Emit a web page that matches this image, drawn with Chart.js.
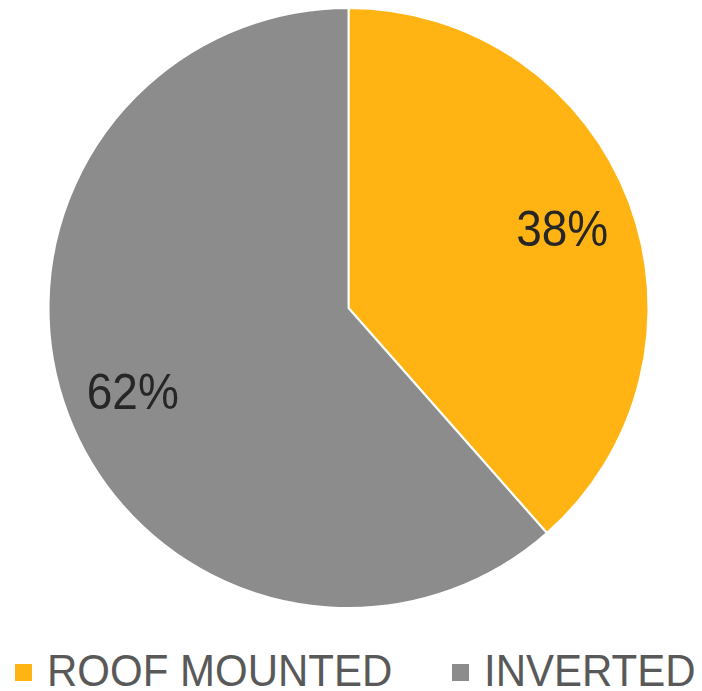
<!DOCTYPE html>
<html>
<head>
<meta charset="utf-8">
<script src="https://cdn.jsdelivr.net/npm/chart.js@4.4.0/dist/chart.umd.min.js"></script>
<style>
  html, body { margin: 0; padding: 0; background: #fff; }
  #wrap { position: relative; width: 702px; height: 691px; overflow: hidden; }
  #pie { position: absolute; left: 0; top: 0; }
  .key { position: absolute; width: 17px; height: 17px; top: 664px; }
  .name {
    position: absolute; top: 651px; font: 42px "Liberation Sans", Arial, sans-serif;
    line-height: 42px; color: #595959; white-space: nowrap;
    transform: scaleY(1.07); transform-origin: 0 36px;
  }
</style>
</head>
<body>
<div id="wrap">
  <canvas id="pie" width="702" height="615"></canvas>
</div>
<script>
// chart data
const categories = ['ROOF MOUNTED', 'INVERTED'];
const shares = [38.5, 61.5];
const sliceColors = ['#FFB413', '#8C8C8C'];
const percentLabels = ['38%', '62%'];

// legend spots (x of swatch, x of text)
const legendSpots = [[15, 47], [452, 484]];

// percent labels drawn inside each slice
const sliceLabels = {
  id: 'sliceLabels',
  afterDatasetsDraw(chart) {
    const ctx = chart.ctx;
    const arcs = chart.getDatasetMeta(0).data;
    ctx.save();
    ctx.font = '46px "Liberation Sans", Arial, sans-serif';
    ctx.fillStyle = '#262626';
    ctx.textAlign = 'center';
    ctx.textBaseline = 'middle';
    arcs.forEach((arc, i) => {
      const p = arc.getProps(['x', 'y', 'startAngle', 'endAngle', 'outerRadius'], true);
      const mid = (p.startAngle + p.endAngle) / 2;
      const r = p.outerRadius * 0.765;
      const lx = p.x + Math.cos(mid) * r - 1;
      const ly = p.y + Math.sin(mid) * r;
      ctx.save();
      ctx.translate(lx, ly);
      ctx.scale(1, 1.1);
      ctx.fillText(percentLabels[i], 0, 5);
      ctx.restore();
    });
    ctx.restore();
  }
};

new Chart(document.getElementById('pie'), {
  type: 'pie',
  data: {
    labels: categories,
    datasets: [{
      data: shares,
      backgroundColor: sliceColors,
      borderColor: '#ffffff',
      borderWidth: 2,
      hoverBorderWidth: 2
    }]
  },
  options: {
    responsive: false,
    animation: false,
    layout: { padding: { left: 47.5, right: 52.5, top: 7, bottom: 6 } },
    plugins: {
      legend: { display: false },
      tooltip: { enabled: false }
    }
  },
  plugins: [sliceLabels]
});

// legend below the pie
const wrap = document.getElementById('wrap');
categories.forEach((name, i) => {
  const key = document.createElement('div');
  key.className = 'key';
  key.style.left = legendSpots[i][0] + 'px';
  key.style.background = sliceColors[i];
  wrap.appendChild(key);
  const txt = document.createElement('div');
  txt.className = 'name';
  txt.style.left = legendSpots[i][1] + 'px';
  txt.textContent = name;
  wrap.appendChild(txt);
});
</script>
</body>
</html>
